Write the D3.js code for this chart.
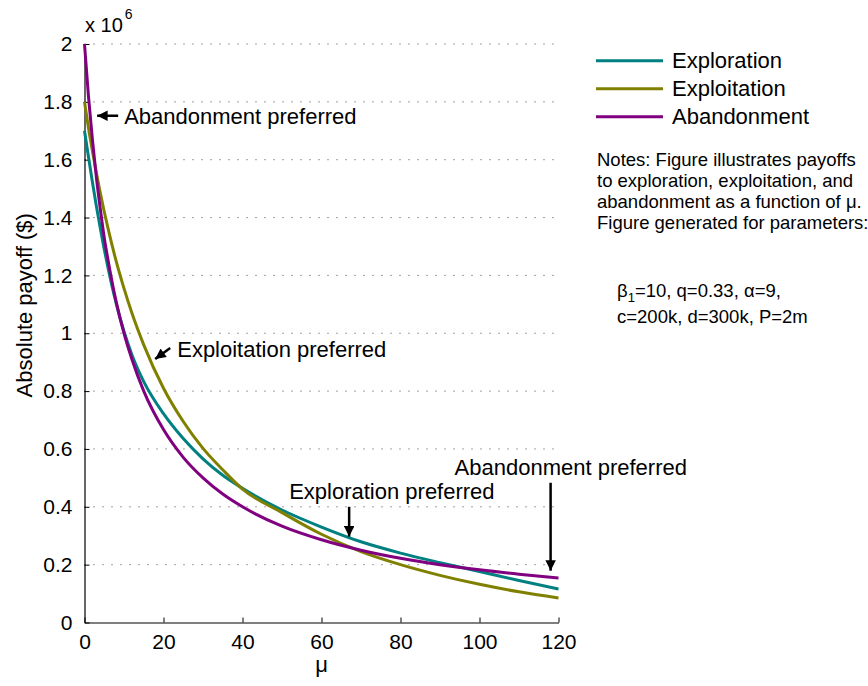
<!DOCTYPE html>
<html>
<head>
<meta charset="utf-8">
<script src="https://cdn.jsdelivr.net/npm/d3@7"></script>
<style>
  html, body { margin: 0; padding: 0; background: #fff; }
  svg { display: block; font-family: "Liberation Sans", Arial, Helvetica, sans-serif; }
</style>
</head>
<body>
<svg id="chart" width="868" height="686"></svg>
<script>
// mu values at which each payoff curve is sampled
const mu = [0, 1, 2, 3, 4, 5, 6, 8, 10, 12, 15, 20, 25, 30, 35, 40, 50, 60, 70, 80, 90, 100, 110, 120];

// payoffs in millions of dollars
const exploration  = [1.70, 1.61, 1.523, 1.44, 1.363, 1.29, 1.223, 1.104, 1.006, 0.926, 0.833, 0.722, 0.636, 0.566, 0.509, 0.464, 0.389, 0.33, 0.279, 0.24, 0.207, 0.176, 0.145, 0.116];
const exploitation = [1.80, 1.71, 1.63, 1.555, 1.485, 1.42, 1.36, 1.25, 1.155, 1.07, 0.96, 0.81, 0.695, 0.602, 0.528, 0.461, 0.38, 0.305, 0.245, 0.20, 0.163, 0.132, 0.106, 0.085];
const abandonment  = [2.00, 1.82, 1.67, 1.54, 1.43, 1.33, 1.25, 1.11, 1.00, 0.91, 0.80, 0.667, 0.571, 0.50, 0.444, 0.40, 0.333, 0.286, 0.25, 0.222, 0.20, 0.182, 0.167, 0.154];

const seriesNames  = ["Exploration", "Exploitation", "Abandonment"];
const seriesColors = ["#008080", "#808000", "#800080"];

const xTicks = [0, 20, 40, 60, 80, 100, 120];
const yTicks = [0, 0.2, 0.4, 0.6, 0.8, 1.0, 1.2, 1.4, 1.6, 1.8, 2.0];
const yTickLabels = ["0", "0.2", "0.4", "0.6", "0.8", "1", "1.2", "1.4", "1.6", "1.8", "2"];

const notes = [
  "Notes: Figure illustrates payoffs",
  "to exploration, exploitation, and",
  "abandonment as a function of \u03bc.",
  "Figure generated for parameters:"
];

// annotation texts: arrow tip (mu, payoff in millions) and arrow tail
const annotations = [
  { text: "Abandonment preferred",  mu: 3.2,  v: 1.752, dir: "left" },
  { text: "Exploitation preferred", mu: 17.9, v: 0.911, dir: "downleft" },
  { text: "Exploration preferred",  mu: 67,   v: 0.297, dir: "down", tail: 0.40,  shift: -60 },
  { text: "Abandonment preferred",  mu: 118,  v: 0.179, dir: "down", tail: 0.483, shift: -96 }
];

const svg = d3.select("#chart");
const plotL = 84.5, plotR = 558.5, plotT = 44, plotB = 622.5;

const x = d3.scaleLinear().domain([0, 120]).range([plotL, plotR]);
const y = d3.scaleLinear().domain([0, 2]).range([plotB, plotT]);

// dotted horizontal grid
svg.append("g")
  .selectAll("line")
  .data(yTicks.slice(1))
  .join("line")
  .attr("x1", plotL).attr("x2", plotR)
  .attr("y1", d => y(d)).attr("y2", d => y(d))
  .attr("stroke", "#444")
  .attr("stroke-width", 1)
  .attr("stroke-dasharray", "1,8");

// axes with inward ticks
const xAxis = d3.axisBottom(x).tickValues(xTicks).tickSizeInner(-5).tickSizeOuter(0).tickPadding(12)
  .tickFormat(d3.format("d"));
const yAxis = d3.axisLeft(y).tickValues(yTicks).tickSizeInner(-5).tickSizeOuter(0).tickPadding(12)
  .tickFormat((d, i) => yTickLabels[i]);

const gx = svg.append("g").attr("transform", `translate(0,${plotB})`).call(xAxis);
const gy = svg.append("g").attr("transform", `translate(${plotL},0)`).call(yAxis);
[gx, gy].forEach(g => {
  g.select(".domain").attr("stroke", "#000").attr("stroke-width", 1.2);
  g.selectAll(".tick line").attr("stroke", "#000").attr("stroke-width", 1);
  g.selectAll(".tick text").attr("fill", "#000").attr("font-size", 21)
    .attr("font-family", "Liberation Sans, Arial, sans-serif");
});

// exponent label for the y axis
const expo = svg.append("text").attr("x", 85).attr("y", 32).attr("font-size", 20).attr("fill", "#000");
expo.append("tspan").text("x 10");
expo.append("tspan").attr("font-size", 14).attr("dy", -13).attr("dx", 2).text("6");

// axis titles
svg.append("text")
  .attr("x", x(60)).attr("y", 672)
  .attr("text-anchor", "middle").attr("font-size", 22).attr("fill", "#000")
  .text("\u03bc");
svg.append("text")
  .attr("transform", `translate(32,${(plotT + plotB) / 2 - 28}) rotate(-90)`)
  .attr("text-anchor", "middle").attr("font-size", 22).attr("fill", "#000")
  .text("Absolute payoff ($)");

// payoff curves
const allSeries = [exploration, exploitation, abandonment];
const line = d3.line()
  .x((d, i) => x(mu[i]))
  .y(d => y(d))
  .curve(d3.curveMonotoneX);

svg.append("g")
  .selectAll("path")
  .data(allSeries)
  .join("path")
  .attr("d", d => line(d))
  .attr("fill", "none")
  .attr("stroke", (d, i) => seriesColors[i])
  .attr("stroke-width", 3);

// legend
const legend = svg.append("g");
seriesNames.forEach((name, i) => {
  const ly = 60.7 + i * 28;
  legend.append("line")
    .attr("x1", 596).attr("x2", 663).attr("y1", ly).attr("y2", ly)
    .attr("stroke", seriesColors[i]).attr("stroke-width", 3);
  legend.append("text")
    .attr("x", 672).attr("y", ly + 7.5)
    .attr("font-size", 22).attr("fill", "#000")
    .text(name);
});

// notes block
const notesG = svg.append("g").attr("fill", "#000").attr("font-size", 18.5);
notes.forEach((t, i) => {
  notesG.append("text").attr("x", 597).attr("y", 166 + i * 21).text(t);
});
const p1 = notesG.append("text").attr("x", 617).attr("y", 297);
p1.append("tspan").text("\u03b2");
p1.append("tspan").attr("font-size", 13).attr("dy", 5).text("1");
p1.append("tspan").attr("dy", -5).text("=10, q=0.33, \u03b1=9,");
notesG.append("text").attr("x", 617).attr("y", 323).text("c=200k, d=300k, P=2m");

// arrow marker
svg.append("defs").append("marker")
  .attr("id", "head")
  .attr("viewBox", "0 0 10 10")
  .attr("refX", 10).attr("refY", 5)
  .attr("markerWidth", 4.4).attr("markerHeight", 4.2)
  .attr("markerUnits", "strokeWidth")
  .attr("orient", "auto")
  .append("path").attr("d", "M0,0 L10,5 L0,10 Z").attr("fill", "#000");

function arrow(x1, y1, x2, y2) {
  svg.append("line")
    .attr("x1", x1).attr("y1", y1).attr("x2", x2).attr("y2", y2)
    .attr("stroke", "#000").attr("stroke-width", 2.5)
    .attr("marker-end", "url(#head)");
}

annotations.forEach(a => {
  const tx = x(a.mu), ty = y(a.v);
  if (a.dir === "left") {
    arrow(tx + 21, ty, tx, ty);
    svg.append("text").attr("x", tx + 27).attr("y", ty + 8)
      .attr("font-size", 22).attr("fill", "#000").text(a.text);
  } else if (a.dir === "downleft") {
    arrow(tx + 15, ty - 11, tx, ty);
    svg.append("text").attr("x", tx + 22).attr("y", ty - 2)
      .attr("font-size", 22).attr("fill", "#000").text(a.text);
  } else {
    const sy = y(a.tail);
    arrow(tx, sy, tx, ty);
    svg.append("text").attr("x", tx + a.shift).attr("y", sy - 8)
      .attr("font-size", 22).attr("fill", "#000").text(a.text);
  }
});
</script>
</body>
</html>
